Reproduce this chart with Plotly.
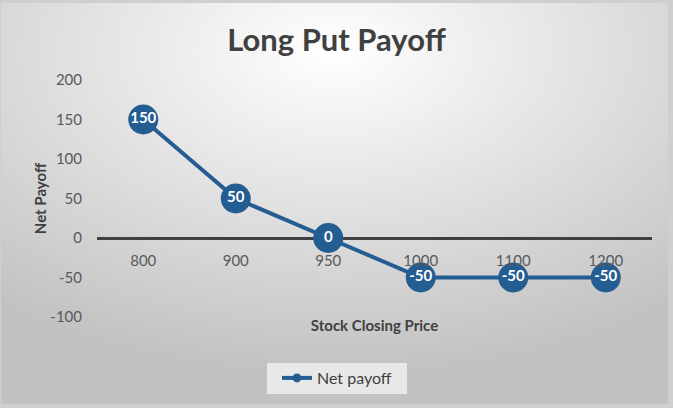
import base64
import plotly.graph_objects as go

# chart data
prices = ["800", "900", "950", "1000", "1100", "1200"]
net_payoff = [150, 50, 0, -50, -50, -50]
y_ticks = [-100, -50, 0, 50, 100, 150, 200]

W, H = 673, 408
L, R, T, B = 97, 21, 80, 91
pw, ph = W - L - R, H - T - B

blue = "#245d91"
font = "Lato"

# radial gradient background (Excel style), drawn as svg image
svg = (
    '<svg xmlns="http://www.w3.org/2000/svg" width="667" height="401">'
    '<defs><radialGradient id="g" cx="50%" cy="12%" r="80%">'
    '<stop offset="0" stop-color="#ffffff"/>'
    '<stop offset="1" stop-color="#c2c2c2"/>'
    '</radialGradient></defs>'
    '<rect width="667" height="401" fill="url(#g)"/></svg>'
)
bg_src = "data:image/svg+xml;base64," + base64.b64encode(svg.encode()).decode()


def px_x(p):
    return (p - L) / pw


def px_y(p):
    return (H - B - p) / ph


fig = go.Figure()

fig.add_trace(go.Scatter(
    x=prices, y=net_payoff,
    mode="lines+markers+text",
    text=[str(v) for v in net_payoff],
    textposition="middle center",
    textfont=dict(family=font, size=15, color="white", weight="bold"),
    line=dict(color=blue, width=4),
    marker=dict(size=30, color=blue),
    name="Net payoff",
    showlegend=False,
    cliponaxis=False,
))

# legend entry with a small marker like the original
fig.add_trace(go.Scatter(
    x=[None], y=[None],
    mode="lines+markers",
    line=dict(color=blue, width=4),
    marker=dict(size=9, color=blue),
    name="Net payoff",
))

fig.update_layout(
    width=W, height=H,
    margin=dict(l=L, r=R, t=T, b=B, autoexpand=False),
    paper_bgcolor="#cfcfcf",
    plot_bgcolor="rgba(0,0,0,0)",
    title=dict(
        text="Long Put Payoff",
        x=0.5, xanchor="center", y=1 - 40 / H, yanchor="middle",
        font=dict(family=font, size=31, color="#404040", weight="bold"),
    ),
    font=dict(family=font, size=14, color="#595959"),
    images=[dict(
        source=bg_src, xref="paper", yref="paper",
        x=px_x(1), y=px_y(3),
        sizex=667 / pw, sizey=401 / ph,
        sizing="stretch", layer="below",
        xanchor="left", yanchor="top",
    )],
    shapes=[dict(
        type="rect", xref="paper", yref="paper", layer="below",
        x0=px_x(267), x1=px_x(407), y0=px_y(394), y1=px_y(363),
        fillcolor="#e8e8e8", line=dict(width=0),
    )],
    legend=dict(
        orientation="h",
        x=px_x(277), xanchor="left",
        y=px_y(378), yanchor="middle",
        bgcolor="rgba(0,0,0,0)",
        font=dict(family=font, size=16, color="#404040"),
        itemclick=False,
    ),
    xaxis=dict(
        type="category",
        range=[-0.5, 5.5],
        anchor="free",
        position=px_y(238),
        showline=False,
        layer="above traces",
        showgrid=False, zeroline=False,
        ticks="", ticklabelstandoff=12,
        tickfont=dict(size=15, color="#595959"),
        title=dict(
            text="Stock Closing Price",
            standoff=52,
            font=dict(size=15, color="#404040", weight="bold"),
        ),
    ),
    yaxis=dict(
        range=[-100, 200],
        tickvals=y_ticks,
        ticktext=[str(v) for v in y_ticks],
        showgrid=False, showline=False,
        zeroline=True, zerolinecolor="#404040", zerolinewidth=2.5,
        layer="below traces",
        ticks="", ticklabelstandoff=14,
        tickfont=dict(size=15, color="#595959"),
        title=dict(
            text="Net Payoff",
            standoff=0,
            font=dict(size=15, color="#404040", weight="bold"),
        ),
    ),
)

fig.write_html(
    "out.html",
    config={"displayModeBar": False},
    post_script="document.body.style.margin='0';",
)
